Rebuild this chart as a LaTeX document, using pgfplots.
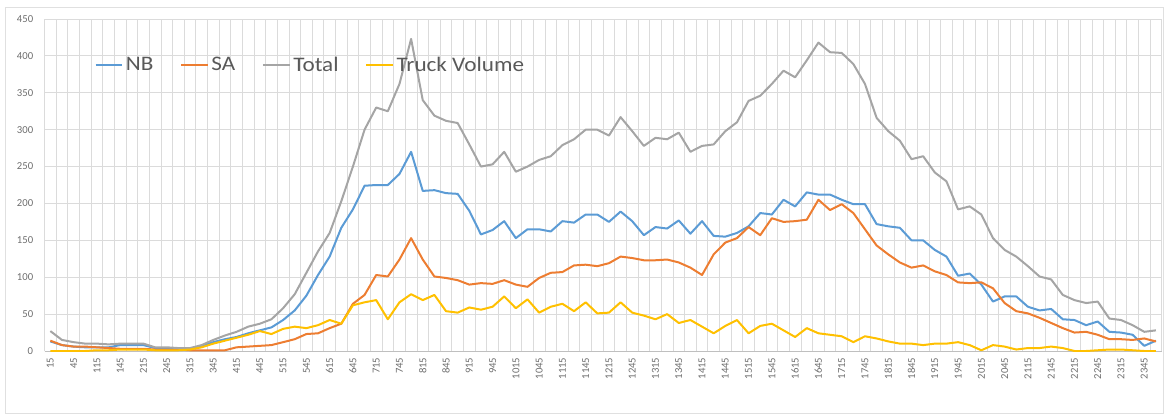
\documentclass[border=0pt]{standalone}
\usepackage{fontspec}
\setmainfont{Carlito}
\newfontfamily\legendfont[FakeStretch=1.12]{Carlito}
\usepackage{pgfplots}
\pgfplotsset{compat=1.18}
\usepackage{pgfplotstable}

\definecolor{nbblue}{RGB}{91,155,213}
\definecolor{saorange}{RGB}{237,125,49}
\definecolor{totalgray}{RGB}{165,165,165}
\definecolor{truckyellow}{RGB}{255,192,0}
\definecolor{labelgray}{RGB}{110,110,110}

% 15-minute counts, i = 0 is 0:15, i = 95 is 24:00
\pgfplotstableread{
i  NB  SA  Total Truck
0  13  14  27  0
1  8   8   15  0
2  6   6   12  0
3  5   6   10  0
4  5   5   10  1
5  5   4   9   1
6  8   3   10  2
7  8   3   10  2
8  8   3   10  2
9  4   2   5   1
10 4   2   5   1
11 3   2   4   1
12 3   1   4   2
13 7   1   8   5
14 12  1   15  10
15 16  1   21  14
16 19  5   26  18
17 24  6   33  22
18 28  7   37  27
19 32  8   43  23
20 42  12  58  30
21 55  16  77  33
22 75  23  106 31
23 103 24  135 35
24 128 31  160 42
25 167 37  203 37
26 192 64  250 62
27 224 76  300 66
28 225 103 330 69
29 225 101 325 43
30 240 124 362 66
31 270 153 423 77
32 217 124 340 69
33 218 101 319 76
34 214 99  312 54
35 213 96  309 52
36 190 90  280 59
37 158 92  250 56
38 164 91  253 60
39 176 96  270 74
40 153 90  243 58
41 165 87  250 70
42 165 99  259 52
43 162 106 264 60
44 176 107 279 64
45 174 116 287 54
46 185 117 300 66
47 185 115 300 51
48 175 119 292 52
49 189 128 317 66
50 176 126 298 52
51 157 123 278 48
52 168 123 289 43
53 166 124 287 50
54 177 120 296 38
55 159 113 270 42
56 176 103 278 33
57 156 131 280 24
58 155 147 298 34
59 160 153 310 42
60 169 168 339 24
61 187 157 346 34
62 185 180 362 37
63 205 175 380 28
64 196 176 371 19
65 215 178 394 31
66 212 205 418 24
67 212 191 405 22
68 205 199 404 20
69 199 187 389 12
70 199 165 362 20
71 172 143 316 17
72 169 131 298 13
73 167 120 285 10
74 150 113 260 10
75 150 116 264 8
76 137 108 242 10
77 128 103 230 10
78 102 93  192 12
79 105 92  196 8
80 90  93  185 1
81 67  85  153 8
82 74  65  137 6
83 74  54  128 2
84 60  51  115 4
85 55  45  101 4
86 57  38  97  6
87 43  31  76  4
88 42  25  69  0
89 35  26  65  0
90 40  22  67  1
91 26  16  44  2
92 25  16  42  2
93 22  15  35  1
94 7   17  26  0
95 14  13  28  0
}\traffic

\begin{document}
\begin{tikzpicture}
\path[use as bounding box] (0pt,0pt) rectangle (873pt,-311.25pt);
\draw[black!12] (3.75pt,-5.25pt) rectangle (872.5pt,-309.75pt);
\begin{axis}[
    at={(33.4pt,-263.25pt)}, anchor=south west,
    scale only axis, width=837.9pt, height=249pt,
    xmin=-0.5, xmax=95.5, ymin=0, ymax=450,
    xtick={0,2,...,94},
    xticklabels={15,45,115,145,215,245,315,345,415,445,515,545,615,645,715,745,
        815,845,915,945,1015,1045,1115,1145,1215,1245,1315,1345,1415,1445,1515,1545,
        1615,1645,1715,1745,1815,1845,1915,1945,2015,2045,2115,2145,2215,2245,2315,2345},
    minor xtick={-0.5,0.5,...,95.5},
    ytick={0,50,...,450},
    xmajorgrids=false, xminorgrids=true, ymajorgrids=true,
    grid style={draw=black!14, line width=0.6pt},
    minor grid style={draw=black!14, line width=0.6pt},
    major tick length=0pt, minor tick length=0pt,
    axis lines*=left, axis line style={-},
    x axis line style={draw=black!25, line width=0.6pt},
    y axis line style={draw=none},
    /pgf/number format/assume math mode=true,
    tick label style={font=\fontsize{8}{9}\selectfont, text=labelgray},
    xticklabel style={rotate=90, anchor=east},
    xticklabel shift=1.5pt,
    yticklabel shift=5pt,
    legend style={at={(0.041,0.861)}, anchor=west, draw=none, fill=none,
        font=\legendfont\fontsize{15.5}{17}\selectfont, text=black!65,
        legend columns=-1,
        /tikz/every even column/.append style={column sep=18pt}},
    legend image code/.code={\draw[#1] (0pt,0pt) -- (20pt,0pt);},
    every axis plot/.append style={line width=1.5pt, line join=round, no marks},
]
\addplot[nbblue] table[x=i, y=NB] {\traffic};
\addplot[saorange] table[x=i, y=SA] {\traffic};
\addplot[totalgray] table[x=i, y=Total] {\traffic};
\addplot[truckyellow] table[x=i, y=Truck] {\traffic};
\legend{NB,SA,Total,Truck Volume}
\end{axis}
\end{tikzpicture}
\end{document}
